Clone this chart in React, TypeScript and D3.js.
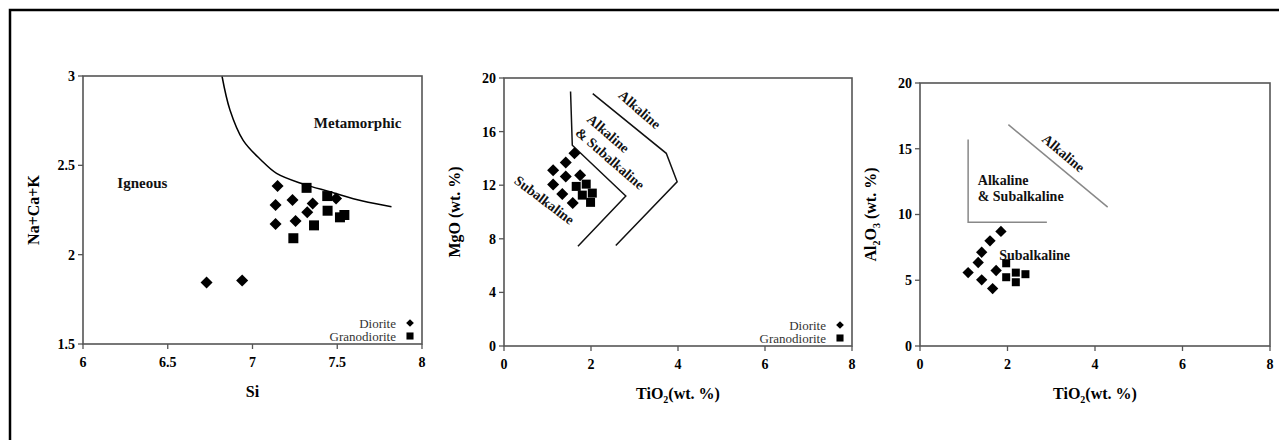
import React from "react";
import * as d3 from "d3";

const W = 1279;
const H = 440;
const FONT = "Liberation Serif, Times New Roman, serif";

// Panel 1: Si vs Na+Ca+K
const siTicks = [6, 6.5, 7, 7.5, 8];
const nckTicks = [1.5, 2, 2.5, 3];
const siDiorite = [
  [7.148, 2.384], [7.136, 2.278], [7.136, 2.172], [7.236, 2.306], [7.254, 2.188],
  [7.355, 2.287], [7.323, 2.237], [7.493, 2.315], [6.729, 1.844], [6.939, 1.855],
];
const siGranodiorite = [
  [7.319, 2.374], [7.441, 2.328], [7.443, 2.246], [7.363, 2.164], [7.241, 2.092],
  [7.516, 2.209], [7.542, 2.222],
];
const igneousBoundary = [
  [6.82, 3.0], [6.867, 2.81], [6.945, 2.64], [7.05, 2.53], [7.142, 2.455],
  [7.3, 2.395], [7.457, 2.352], [7.65, 2.3], [7.82, 2.268],
];

// Panel 2: TiO2 vs MgO
const tiTicks = [0, 2, 4, 6, 8];
const mgoTicks = [0, 4, 8, 12, 16, 20];
const mgoDiorite = [
  [1.62, 14.38], [1.42, 13.69], [1.13, 13.12], [1.42, 12.65],
  [1.75, 12.75], [1.13, 12.05], [1.34, 11.34], [1.58, 10.67],
];
const mgoGranodiorite = [[1.66, 11.91], [1.89, 12.08], [1.8, 11.26], [2.03, 11.41], [1.99, 10.72]];
const mgoInnerLine = [[1.53, 19.0], [1.57, 14.98], [2.8, 11.2], [1.7, 7.45]];
const mgoOuterLine = [[2.04, 18.84], [3.73, 14.38], [3.98, 12.25], [2.57, 7.5]];

// Panel 3: TiO2 vs Al2O3
const alTicks = [0, 5, 10, 15, 20];
const alDiorite = [
  [1.85, 8.71], [1.6, 8.0], [1.41, 7.13], [1.33, 6.35],
  [1.1, 5.58], [1.74, 5.74], [1.41, 5.03], [1.66, 4.37],
];
const alGranodiorite = [[1.97, 6.29], [1.97, 5.23], [2.19, 5.58], [2.41, 5.46], [2.19, 4.85]];
const alCornerLine = [[1.1, 15.7], [1.1, 9.42], [2.9, 9.42]];
const alAlkalineLine = [[2.02, 16.83], [4.29, 10.56]];

const Sub = ({ children }) => (
  <tspan dy={4} fontSize={10}>{children}</tspan>
);

function Panel({
  box, xDomain, yDomain, xTicks, yTicks, diorite, granodiorite, lines,
  labels, legend, xLabel, yLabel, mark, curve,
}) {
  const x = d3.scaleLinear().domain(xDomain).range([box.left, box.right]);
  const y = d3.scaleLinear().domain(yDomain).range([box.bottom, box.top]);
  const line = d3.line().x((d) => x(d[0])).y((d) => y(d[1]));
  if (curve) line.curve(d3.curveCatmullRom);
  const square = d3.symbol().type(d3.symbolSquare);

  return (
    <g style={{ fontFamily: FONT }}>
      {lines.map((l, i) => (
        <path key={i} d={line(l.points)} fill="none" stroke={l.color} strokeWidth={1.5} />
      ))}
      <rect x={box.left} y={box.top} width={box.right - box.left} height={box.bottom - box.top}
        fill="none" stroke="#555" strokeWidth={1.6} />
      {xTicks.map((t) => (
        <g key={"x" + t}>
          <line x1={x(t)} x2={x(t)} y1={box.bottom} y2={box.bottom + 5} stroke="#555" strokeWidth={1.3} />
          <text x={x(t)} y={box.bottom + 23} textAnchor="middle" fontSize={14} fontWeight="bold">{t}</text>
        </g>
      ))}
      {yTicks.map((t) => (
        <g key={"y" + t}>
          <line x1={box.left - 5} x2={box.left} y1={y(t)} y2={y(t)} stroke="#555" strokeWidth={1.3} />
          <text x={box.left - 8} y={y(t)} dy="0.35em" textAnchor="end" fontSize={14} fontWeight="bold">{t}</text>
        </g>
      ))}
      {labels.map((l, i) => (
        <text key={i} transform={`translate(${x(l.x)},${y(l.y)}) rotate(${l.angle || 0})`}
          textAnchor="middle" dy="0.35em" fontSize={l.size} fontWeight="bold" fill="#111">
          {l.text}
        </text>
      ))}
      {diorite.map((d, i) => (
        <path key={"d" + i} d={square.size(mark.diamond * mark.diamond)()}
          transform={`translate(${x(d[0])},${y(d[1])}) rotate(45)`} fill="#000" />
      ))}
      {granodiorite.map((d, i) => (
        <path key={"g" + i} d={square.size(mark.square * mark.square)()}
          transform={`translate(${x(d[0])},${y(d[1])})`} fill="#000" />
      ))}
      {legend && (
        <g fontSize={13} fill="#333">
          <text x={box.right - 26} y={box.bottom - 21} dy="0.35em" textAnchor="end">Diorite</text>
          <path d={square.size(30)()} transform={`translate(${box.right - 12},${box.bottom - 21}) rotate(45)`} fill="#000" />
          <text x={box.right - 26} y={box.bottom - 8} dy="0.35em" textAnchor="end">Granodiorite</text>
          <path d={square.size(50)()} transform={`translate(${box.right - 12},${box.bottom - 8})`} fill="#000" />
        </g>
      )}
      <text x={(box.left + box.right) / 2} y={box.bottom + 53} textAnchor="middle" fontSize={16} fontWeight="bold">
        {xLabel}
      </text>
      <text transform={`translate(${box.left - 44},${(box.top + box.bottom) / 2}) rotate(-90)`}
        textAnchor="middle" fontSize={16} fontWeight="bold">
        {yLabel}
      </text>
    </g>
  );
}

const tiLabel = (
  <>
    <tspan>TiO</tspan><Sub>2</Sub><tspan dy={-4}>(wt. %)</tspan>
  </>
);

export default function App() {
  return (
    <svg width={W} height={H} style={{ position: "absolute", left: 0, top: 0, background: "#fff" }}>
      <rect x={0} y={0} width={W} height={H} fill="#fff" />
      <path d={`M10,${H} V10 H${W}`} fill="none" stroke="#000" strokeWidth={2.5} />

      <Panel
        box={{ left: 83, right: 422, top: 76, bottom: 344 }}
        xDomain={[6, 8]} yDomain={[1.5, 3]}
        xTicks={siTicks} yTicks={nckTicks}
        diorite={siDiorite} granodiorite={siGranodiorite}
        mark={{ diamond: 8.5, square: 10 }}
        curve
        lines={[{ points: igneousBoundary, color: "#000" }]}
        labels={[
          { text: "Igneous", x: 6.35, y: 2.405, size: 15 },
          { text: "Metamorphic", x: 7.62, y: 2.74, size: 15 },
        ]}
        legend
        xLabel="Si"
        yLabel="Na+Ca+K"
      />

      <Panel
        box={{ left: 504, right: 852, top: 78, bottom: 346 }}
        xDomain={[0, 8]} yDomain={[0, 20]}
        xTicks={tiTicks} yTicks={mgoTicks}
        diorite={mgoDiorite} granodiorite={mgoGranodiorite}
        mark={{ diamond: 8.5, square: 9 }}
        lines={[
          { points: mgoInnerLine, color: "#111" },
          { points: mgoOuterLine, color: "#111" },
        ]}
        labels={[
          { text: "Alkaline", x: 3.12, y: 17.65, size: 14, angle: 41 },
          { text: "Alkaline", x: 2.4, y: 15.87, size: 14, angle: 41 },
          { text: "& Subalkaline", x: 2.44, y: 14.0, size: 14, angle: 41 },
          { text: "Subalkaline", x: 0.93, y: 10.9, size: 14, angle: 37 },
        ]}
        legend
        xLabel={tiLabel}
        yLabel="MgO (wt. %)"
      />

      <Panel
        box={{ left: 920, right: 1270, top: 83, bottom: 346 }}
        xDomain={[0, 8]} yDomain={[0, 20]}
        xTicks={tiTicks} yTicks={alTicks}
        diorite={alDiorite} granodiorite={alGranodiorite}
        mark={{ diamond: 8, square: 8 }}
        lines={[
          { points: alCornerLine, color: "#888" },
          { points: alAlkalineLine, color: "#888" },
        ]}
        labels={[
          { text: "Alkaline", x: 3.28, y: 14.67, size: 14, angle: 40 },
          { text: "Alkaline", x: 1.9, y: 12.64, size: 14 },
          { text: "& Subalkaline", x: 2.3, y: 11.42, size: 14 },
          { text: "Subalkaline", x: 2.62, y: 6.93, size: 14 },
        ]}
        xLabel={tiLabel}
        yLabel={
          <>
            <tspan>Al</tspan><Sub>2</Sub><tspan dy={-4}>O</tspan><Sub>3</Sub><tspan dy={-4}> (wt. %)</tspan>
          </>
        }
      />
    </svg>
  );
}
